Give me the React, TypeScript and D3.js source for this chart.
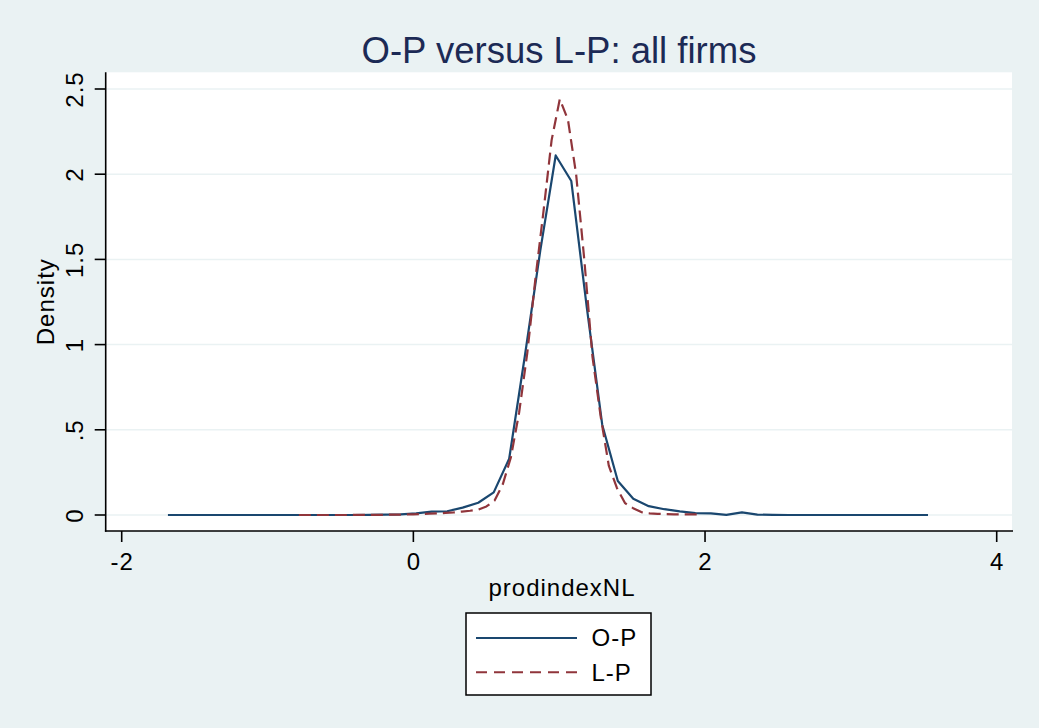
import React from "react";
import * as d3 from "d3";

// ---- Data ----
const titleText = "O-P versus L-P: all firms";
const xLabel = "prodindexNL";
const yLabel = "Density";
const xTicks = [-2, 0, 2, 4];
const xTickLabels = ["-2", "0", "2", "4"];
const yTicks = [0, 0.5, 1, 1.5, 2, 2.5];
const yTickLabels = ["0", ".5", "1", "1.5", "2", "2.5"];
const seriesNames = ["O-P", "L-P"];

// O-P kernel density evaluation points and values
const opX = [
  -1.683, -1.577, -1.47, -1.364, -1.258, -1.151, -1.045, -0.938, -0.832, -0.726,
  -0.619, -0.513, -0.407, -0.3, -0.194, -0.087, 0.019, 0.125, 0.232, 0.338,
  0.445, 0.551, 0.657, 0.764, 0.87, 0.976, 1.083, 1.189, 1.295, 1.402,
  1.508, 1.614, 1.721, 1.827, 1.934, 2.04, 2.146, 2.253, 2.359, 2.465,
  2.572, 2.678, 2.785, 2.891, 2.997, 3.104, 3.21, 3.316, 3.423, 3.529,
];
const opY = [
  0, 0, 0, 0, 0, 0, 0, 0, 0, 0,
  0, 0, 0, 0.001, 0.002, 0.004, 0.01, 0.02, 0.022, 0.043,
  0.072, 0.133, 0.33, 0.93, 1.55, 2.11, 1.96, 1.22, 0.53, 0.2,
  0.095, 0.052, 0.034, 0.021, 0.011, 0.01, 0.001, 0.015, 0.002, 0.001,
  0, 0, 0, 0, 0, 0, 0, 0, 0, 0,
];

// L-P kernel density evaluation points and values
const lpX = [
  -0.785, -0.729, -0.673, -0.617, -0.561, -0.506, -0.45, -0.394, -0.338, -0.282,
  -0.226, -0.17, -0.114, -0.058, -0.002, 0.054, 0.11, 0.166, 0.221, 0.277,
  0.333, 0.389, 0.445, 0.501, 0.557, 0.613, 0.669, 0.725, 0.781, 0.836,
  0.892, 0.948, 1.004, 1.06, 1.116, 1.172, 1.228, 1.284, 1.34, 1.395,
  1.451, 1.507, 1.563, 1.619, 1.675, 1.731, 1.787, 1.843, 1.898, 1.954,
];
const lpY = [
  0, 0, 0, 0, 0, 0, 0, 0.001, 0.001, 0.001,
  0.001, 0.002, 0.002, 0.003, 0.004, 0.006, 0.008, 0.01, 0.012, 0.015,
  0.02, 0.025, 0.032, 0.05, 0.085, 0.18, 0.34, 0.6, 0.95, 1.38,
  1.78, 2.2, 2.44, 2.32, 2.0, 1.5, 0.93, 0.58, 0.29, 0.16,
  0.07, 0.04, 0.017, 0.01, 0.007, 0.005, 0.004, 0.004, 0.004, 0.004,
];

// ---- Styles ----
const W = 1039;
const H = 728;
const BG = "#eaf2f3";
const OP_COLOR = "#1a476f";
const LP_COLOR = "#90353b";
const TITLE_COLOR = "#1c2a55";
const FONT = "'Liberation Sans', Arial, Helvetica, sans-serif";
const FS = 24;
const LS = 1;

const plot = { left: 105.7, right: 1012, top: 72.3, bottom: 531 };

export default function App() {
  const x = d3
    .scaleLinear()
    .domain([-2, 4])
    .range([121.7, 996.7]);
  const y = d3
    .scaleLinear()
    .domain([0, 2.5])
    .range([515, 89]);

  const line = d3
    .line<[number, number]>()
    .x((d) => x(d[0]))
    .y((d) => y(d[1]));

  const opPath = line(opX.map((v, i) => [v, opY[i]] as [number, number])) || "";
  const lpPath = line(lpX.map((v, i) => [v, lpY[i]] as [number, number])) || "";

  const tickLen = 11;

  return (
    <svg
      width={W}
      height={H}
      style={{ position: "absolute", left: 0, top: 0, display: "block" }}
      fontFamily={FONT}
    >
      <rect x={0} y={0} width={W} height={H} fill={BG} />
      {/* plot region */}
      <rect
        x={plot.left}
        y={plot.top}
        width={plot.right - plot.left}
        height={plot.bottom - plot.top}
        fill="#ffffff"
      />
      {/* grid lines */}
      {yTicks.map((t) => (
        <line
          key={"g" + t}
          x1={plot.left}
          x2={plot.right}
          y1={y(t)}
          y2={y(t)}
          stroke={BG}
          strokeWidth={1.5}
        />
      ))}
      {/* title */}
      <text
        x={559}
        y={62.5}
        textAnchor="middle"
        fontSize={36.5}
        fill={TITLE_COLOR}
      >
        {titleText}
      </text>

      {/* data lines */}
      <path d={opPath} fill="none" stroke={OP_COLOR} strokeWidth={2.2} strokeLinejoin="round" />
      <path
        d={lpPath}
        fill="none"
        stroke={LP_COLOR}
        strokeWidth={2.2}
        strokeDasharray="12,6"
        strokeLinejoin="round"
      />

      {/* axes */}
      <line x1={plot.left} x2={plot.left} y1={plot.top} y2={plot.bottom + 0.8} stroke="#000" strokeWidth={1.6} />
      <line x1={plot.left - 0.8} x2={plot.right + 1} y1={plot.bottom} y2={plot.bottom} stroke="#000" strokeWidth={1.6} />
      {yTicks.map((t, i) => (
        <g key={"yt" + t}>
          <line
            x1={plot.left - tickLen}
            x2={plot.left}
            y1={y(t)}
            y2={y(t)}
            stroke="#000"
            strokeWidth={1.6}
          />
          <text
            transform={`translate(83.3,${y(t) + LS / 2}) rotate(-90)`}
            textAnchor="middle"
            fontSize={FS}
            letterSpacing={LS}
            fill="#000"
          >
            {yTickLabels[i]}
          </text>
        </g>
      ))}
      {xTicks.map((t, i) => (
        <g key={"xt" + t}>
          <line
            x1={x(t)}
            x2={x(t)}
            y1={plot.bottom}
            y2={plot.bottom + tickLen}
            stroke="#000"
            strokeWidth={1.6}
          />
          <text x={x(t) + LS / 2} y={570} textAnchor="middle" fontSize={FS} letterSpacing={LS} fill="#000">
            {xTickLabels[i]}
          </text>
        </g>
      ))}
      <text x={562} y={596} textAnchor="middle" fontSize={FS} letterSpacing={LS} fill="#000">
        {xLabel}
      </text>
      <text
        transform={`translate(53.5,301.7) rotate(-90)`}
        textAnchor="middle"
        fontSize={FS}
        letterSpacing={LS}
        fill="#000"
      >
        {yLabel}
      </text>

      {/* legend */}
      <rect x={466} y={613} width={185} height={82} fill="#ffffff" stroke="#000" strokeWidth={1.5} />
      <line x1={476} x2={577} y1={638} y2={638} stroke={OP_COLOR} strokeWidth={2} />
      <text x={591.5} y={646} fontSize={FS} letterSpacing={LS} fill="#000">
        {seriesNames[0]}
      </text>
      <line
        x1={476}
        x2={577}
        y1={672.3}
        y2={672.3}
        stroke={LP_COLOR}
        strokeWidth={2}
        strokeDasharray="11,7"
      />
      <text x={591.5} y={680.5} fontSize={FS} letterSpacing={LS} fill="#000">
        {seriesNames[1]}
      </text>
    </svg>
  );
}
